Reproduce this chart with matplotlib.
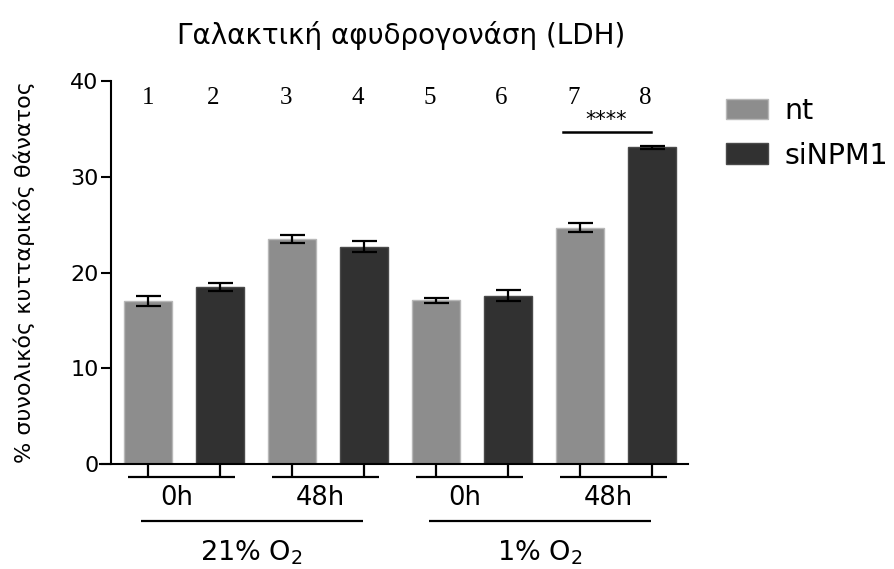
import matplotlib
matplotlib.use('Agg')
import matplotlib.pyplot as plt
from matplotlib.patches import Patch
import numpy as np

# LDH release, % total cell death
bar_labels = ['1', '2', '3', '4', '5', '6', '7', '8']
groups = ['nt', 'siNPM1', 'nt', 'siNPM1', 'nt', 'siNPM1', 'nt', 'siNPM1']
values = [17.0, 18.5, 23.5, 22.7, 17.1, 17.6, 24.7, 33.1]
sem = [0.5, 0.45, 0.45, 0.55, 0.25, 0.55, 0.5, 0.15]
time_labels = ['0h', '48h', '0h', '48h']
oxygen_labels = ['21% O$_2$', '1% O$_2$']
series_colors = {'nt': '#8d8d8d', 'siNPM1': '#313131'}
edge_colors = {'nt': '#b8b8b8', 'siNPM1': '#4a4a4a'}

plt.rcParams['font.family'] = ['DejaVu Sans']
plt.rcParams['mathtext.fontset'] = 'dejavusans'

fig = plt.figure(figsize=(8.95, 5.69), dpi=100)
ax = fig.add_axes([0.1117, 0.1845, 0.657, 0.6731])

x = np.arange(len(values))
ax.bar(x, values, width=0.68,
       color=[series_colors[g] for g in groups],
       edgecolor=[edge_colors[g] for g in groups], linewidth=1.0, zorder=2)
ax.errorbar(x, values, yerr=sem, fmt='none', ecolor='black',
            elinewidth=1.6, capsize=9, capthick=1.6, zorder=3)

ax.set_xlim(-0.667, 7.5)
ax.set_ylim(0, 40)
ax.set_yticks([0, 10, 20, 30, 40])
ax.tick_params(axis='y', labelsize=16, width=1.5, length=7, pad=2,
               direction='out')
ax.set_xticks([])
for s in ['top', 'right']:
    ax.spines[s].set_visible(False)
ax.spines['left'].set_position(('data', -0.514))
ax.spines['left'].set_linewidth(1.5)
ax.spines['bottom'].set_linewidth(1.5)

ax.set_ylabel('% συνολικός κυτταρικός θάνατος', fontsize=16)
ax.yaxis.set_label_coords(-0.11, 0.5)
fig.text(401 / 895, 1 - 35 / 569, 'Γαλακτική αφυδρογονάση (LDH)',
         ha='center', va='center', fontsize=20)

# numbers above bars
for xi, lab in zip(x, bar_labels):
    off = 0 if xi == 0 else -0.09
    ax.text(xi + off, 38.2, lab, ha='center', va='center',
            fontsize=18, family='Liberation Serif')

# significance 7 vs 8
ax.plot([5.76, 6.99], [34.7, 34.7], color='black', lw=1.8, clip_on=False)
ax.text(6.36, 35.9, '****', ha='center', va='center', fontsize=15,
        family='DejaVu Sans')

# grouping below the axis
lk = dict(color='black', lw=1.6, clip_on=False, solid_capstyle='butt')
tick_y = -1.36
for gi in range(4):
    a, b = 2 * gi, 2 * gi + 1
    ax.plot([a, a], [0, tick_y], **lk)
    ax.plot([b, b], [0, tick_y], **lk)
    ax.plot([a - 0.28, b + 0.21], [tick_y, tick_y], **lk)
    ax.text((a + b) / 2 - 0.1, -3.5, time_labels[gi], ha='center',
            va='center', fontsize=18.5)
for oi in range(2):
    a = 4 * oi
    ax.plot([a - 0.1, a + 2.98], [-6.0, -6.0], **lk)
    ax.text(a + 1.44, -9.3, oxygen_labels[oi], ha='center', va='center',
            fontsize=19.5)

handles = [Patch(facecolor=series_colors[k], edgecolor=edge_colors[k])
           for k in ['nt', 'siNPM1']]
fig.legend(handles, ['nt', 'siNPM1'], loc='upper left',
           bbox_to_anchor=(0.811, 0.8295), frameon=False, fontsize=20.5,
           handlelength=1.47, handleheight=0.74, handletextpad=0.58,
           labelspacing=0.58, borderpad=0, borderaxespad=0)

fig.savefig('out.png', dpi=100)
